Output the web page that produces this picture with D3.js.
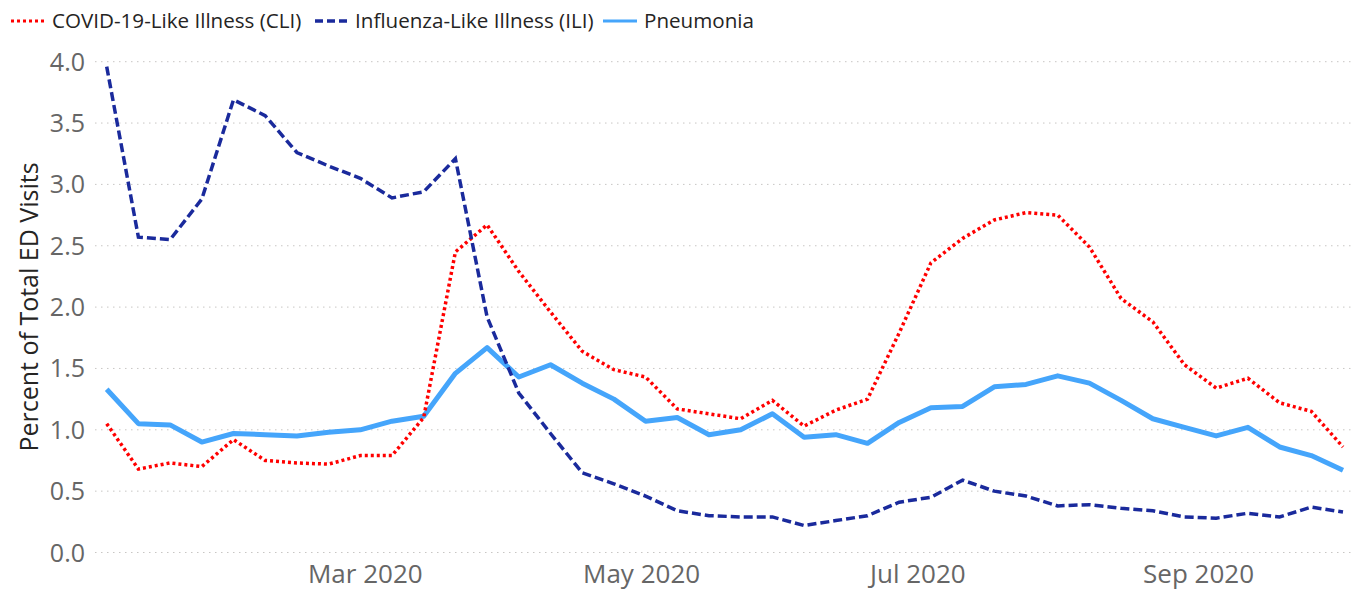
<!DOCTYPE html>
<html>
<head>
<meta charset="utf-8">
<script src="https://cdn.jsdelivr.net/npm/d3@7"></script>
<style>
  html, body { margin: 0; padding: 0; background: #fff; }
  svg { display: block; font-family: "Segoe UI", "Open Sans", "Noto Sans", sans-serif; }
</style>
</head>
<body>
<svg id="chart" width="1352" height="591"></svg>
<script>
const weeks = ["2020-01-04","2020-01-11","2020-01-18","2020-01-25","2020-02-01","2020-02-08","2020-02-15","2020-02-22","2020-02-29",
  "2020-03-07","2020-03-14","2020-03-21","2020-03-28","2020-04-04","2020-04-11","2020-04-18","2020-04-25",
  "2020-05-02","2020-05-09","2020-05-16","2020-05-23","2020-05-30","2020-06-06","2020-06-13","2020-06-20","2020-06-27",
  "2020-07-04","2020-07-11","2020-07-18","2020-07-25","2020-08-01","2020-08-08","2020-08-15","2020-08-22","2020-08-29",
  "2020-09-05","2020-09-12","2020-09-19","2020-09-26","2020-10-03"];
const cli = [1.05, 0.68, 0.73, 0.70, 0.92, 0.75, 0.73, 0.72, 0.79, 0.79, 1.10, 2.45, 2.67, 2.29, 1.96, 1.64, 1.49, 1.43, 1.17, 1.13,
  1.09, 1.24, 1.03, 1.16, 1.25, 1.79, 2.36, 2.56, 2.71, 2.77, 2.75, 2.49, 2.07, 1.88, 1.53, 1.34, 1.42, 1.22, 1.15, 0.86];
const ili = [3.96, 2.57, 2.55, 2.88, 3.69, 3.56, 3.26, 3.15, 3.05, 2.89, 2.94, 3.21, 1.92, 1.30, 0.97, 0.65, 0.56, 0.46, 0.34, 0.30,
  0.29, 0.29, 0.22, 0.26, 0.30, 0.41, 0.45, 0.59, 0.50, 0.46, 0.38, 0.39, 0.36, 0.34, 0.29, 0.28, 0.32, 0.29, 0.37, 0.33];
const pneumonia = [1.33, 1.05, 1.04, 0.90, 0.97, 0.96, 0.95, 0.98, 1.00, 1.07, 1.11, 1.46, 1.67, 1.43, 1.53, 1.38, 1.25, 1.07, 1.10, 0.96,
  1.00, 1.13, 0.94, 0.96, 0.89, 1.06, 1.18, 1.19, 1.35, 1.37, 1.44, 1.38, 1.24, 1.09, 1.02, 0.95, 1.02, 0.86, 0.79, 0.67];
const yTicks = [0, 0.5, 1.0, 1.5, 2.0, 2.5, 3.0, 3.5, 4.0];
const xTickDates = ["2020-03-01","2020-05-01","2020-07-01","2020-09-01"];
const seriesNames = ["COVID-19-Like Illness (CLI)", "Influenza-Like Illness (ILI)", "Pneumonia"];

const parse = d3.utcParse("%Y-%m-%d");
const dates = weeks.map(parse);

const svg = d3.select("#chart");
const x = d3.scaleUtc().domain([dates[0], dates[dates.length - 1]]).range([106.7, 1343]);
const y = d3.scaleLinear().domain([0, 4]).range([552.5, 61.7]);

// gridlines
svg.append("g").selectAll("line").data(yTicks).join("line")
  .attr("x1", 95).attr("x2", 1352)
  .attr("y1", d => y(d)).attr("y2", d => y(d))
  .attr("stroke", "#c8c6c4").attr("stroke-width", 1).attr("stroke-dasharray", "1.5,4.5");

// y axis
const yAxis = svg.append("g").attr("transform", "translate(85,0)")
  .call(d3.axisLeft(y).tickValues(yTicks).tickFormat(d3.format(".1f")).tickSize(0).tickPadding(0));
yAxis.select(".domain").remove();
yAxis.selectAll("text").attr("fill", "#666666").attr("font-size", 25).attr("dy", "0.34em")
  .style("font-family", "'Segoe UI', 'Open Sans', sans-serif");

// x axis
const xAxis = svg.append("g").attr("transform", "translate(0,552.5)")
  .call(d3.axisBottom(x).tickValues(xTickDates.map(parse)).tickFormat(d3.utcFormat("%b %Y")).tickSize(0).tickPadding(0));
xAxis.select(".domain").remove();
xAxis.selectAll("text").attr("fill", "#666666").attr("font-size", 26).attr("y", 30.5).attr("dy", 0)
  .style("font-family", "'Segoe UI', 'Open Sans', sans-serif");

// y title
svg.append("text")
  .attr("transform", "translate(38,307) rotate(-90)")
  .attr("text-anchor", "middle")
  .attr("fill", "#252423").attr("font-size", 25)
  .text("Percent of Total ED Visits");

const line = d3.line().x((d, i) => x(dates[i])).y(d => y(d));

svg.append("path").datum(pneumonia).attr("d", line)
  .attr("fill", "none").attr("stroke", "#45a5fb").attr("stroke-width", 5).attr("stroke-linejoin", "round");
svg.append("path").datum(cli).attr("d", line)
  .attr("fill", "none").attr("stroke", "#ff0000").attr("stroke-width", 3.5).attr("stroke-dasharray", "3,3");
svg.append("path").datum(ili).attr("d", line)
  .attr("fill", "none").attr("stroke", "#1a2a9c").attr("stroke-width", 3.5).attr("stroke-dasharray", "9,4");

// legend
const legend = [
  {name: seriesNames[0], color: "#ff0000", dash: "3,3", w: 3, x0: 11, x1: 45, tx: 52},
  {name: seriesNames[1], color: "#1a2a9c", dash: "8,4", w: 3.5, x0: 315, x1: 348, tx: 355},
  {name: seriesNames[2], color: "#45a5fb", dash: null, w: 3, x0: 603, x1: 637, tx: 644}
];
const lg = svg.append("g");
legend.forEach(l => {
  lg.append("line").attr("x1", l.x0).attr("x2", l.x1).attr("y1", 21).attr("y2", 21)
    .attr("stroke", l.color).attr("stroke-width", l.w).attr("stroke-dasharray", l.dash);
  lg.append("text").attr("x", l.tx).attr("y", 21).attr("dy", "0.35em")
    .attr("fill", "#252423").attr("font-size", 20.6).text(l.name);
});
</script>
</body>
</html>
